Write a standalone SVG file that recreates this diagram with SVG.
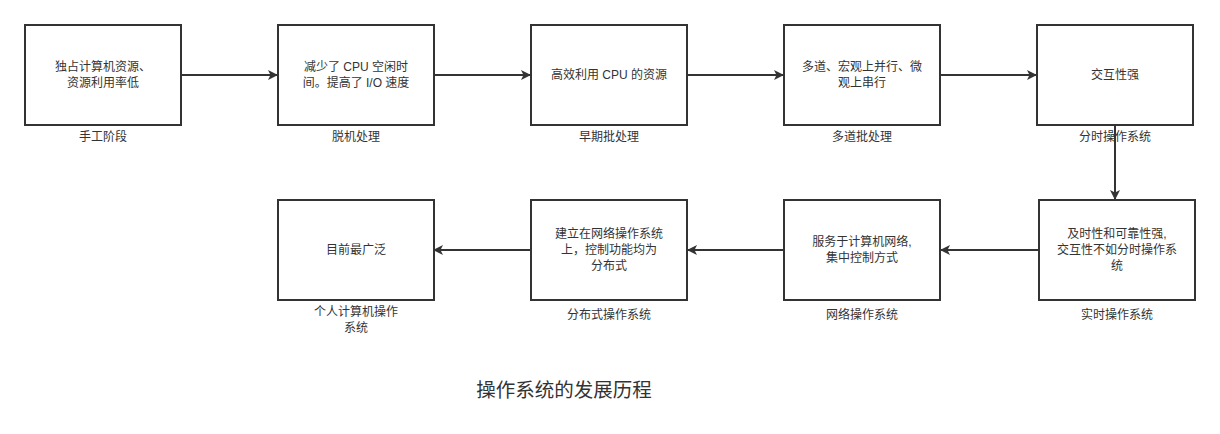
<svg xmlns="http://www.w3.org/2000/svg" width="1220" height="434" viewBox="0 0 1220 434">
<style>
.box{fill:#fff;stroke:#333;stroke-width:2}
.t{font-family:"Liberation Sans","Noto Sans CJK SC",sans-serif;font-size:12px;fill:#333;text-anchor:middle}
.title{font-family:"Liberation Sans","Noto Sans CJK SC",sans-serif;font-size:19.5px;fill:#333;text-anchor:middle}
.edge{stroke:#333;stroke-width:2;fill:none}
</style>
<defs>
<marker id="arr" markerWidth="10" markerHeight="10" refX="9" refY="5" orient="auto" markerUnits="userSpaceOnUse">
<path d="M0,0 L10,5 L0,10 L2.5,5 Z" fill="#333"/>
</marker>
</defs>
<rect width="1220" height="434" fill="#fff"/>
<g id="connectors">
<line class="edge" x1="181" y1="75" x2="277" y2="75" marker-end="url(#arr)"/>
<line class="edge" x1="434" y1="75" x2="530" y2="75" marker-end="url(#arr)"/>
<line class="edge" x1="687" y1="75" x2="783" y2="75" marker-end="url(#arr)"/>
<line class="edge" x1="940" y1="75" x2="1036" y2="75" marker-end="url(#arr)"/>
<line class="edge" x1="1115" y1="125" x2="1115" y2="199" marker-end="url(#arr)"/>
<line class="edge" x1="1039" y1="250" x2="941" y2="250" marker-end="url(#arr)"/>
<line class="edge" x1="784" y1="250" x2="688" y2="250" marker-end="url(#arr)"/>
<line class="edge" x1="531" y1="250" x2="434" y2="250" marker-end="url(#arr)"/>
</g>
<g id="n1"><rect class="box" x="25" y="25" width="156" height="100"/>
<text class="t" x="103" y="71">独占计算机资源、</text><text class="t" x="103" y="87">资源利用率低</text>
<text class="t" x="103" y="141">手工阶段</text></g>
<g id="n2"><rect class="box" x="278" y="25" width="156" height="100"/>
<text class="t" x="356" y="71">减少了 CPU 空闲时</text><text class="t" x="356" y="87">间。提高了 I/O 速度</text>
<text class="t" x="356" y="141">脱机处理</text></g>
<g id="n3"><rect class="box" x="531" y="25" width="156" height="100"/>
<text class="t" x="609" y="79">高效利用 CPU 的资源</text>
<text class="t" x="609" y="141">早期批处理</text></g>
<g id="n4"><rect class="box" x="784" y="25" width="156" height="100"/>
<text class="t" x="862" y="71">多道、宏观上并行、微</text><text class="t" x="862" y="87">观上串行</text>
<text class="t" x="862" y="141">多道批处理</text></g>
<g id="n5"><rect class="box" x="1037" y="25" width="156" height="100"/>
<text class="t" x="1115" y="79">交互性强</text>
<text class="t" x="1115" y="141">分时操作系统</text></g>
<g id="n6"><rect class="box" x="1039" y="200" width="156" height="100"/>
<text class="t" x="1117" y="238">及时性和可靠性强,</text><text class="t" x="1117" y="254">交互性不如分时操作系</text><text class="t" x="1117" y="270">统</text>
<text class="t" x="1117" y="319">实时操作系统</text></g>
<g id="n7"><rect class="box" x="784" y="200" width="156" height="100"/>
<text class="t" x="862" y="246">服务于计算机网络,</text><text class="t" x="862" y="262">集中控制方式</text>
<text class="t" x="862" y="319">网络操作系统</text></g>
<g id="n8"><rect class="box" x="531" y="200" width="156" height="100"/>
<text class="t" x="609" y="238">建立在网络操作系统</text><text class="t" x="609" y="254">上，控制功能均为</text><text class="t" x="609" y="270">分布式</text>
<text class="t" x="609" y="319">分布式操作系统</text></g>
<g id="n9"><rect class="box" x="278" y="200" width="156" height="100"/>
<text class="t" x="356" y="254">目前最广泛</text>
<text class="t" x="356" y="316">个人计算机操作</text><text class="t" x="356" y="332">系统</text></g>
<text class="title" x="564" y="397">操作系统的发展历程</text>
</svg>
